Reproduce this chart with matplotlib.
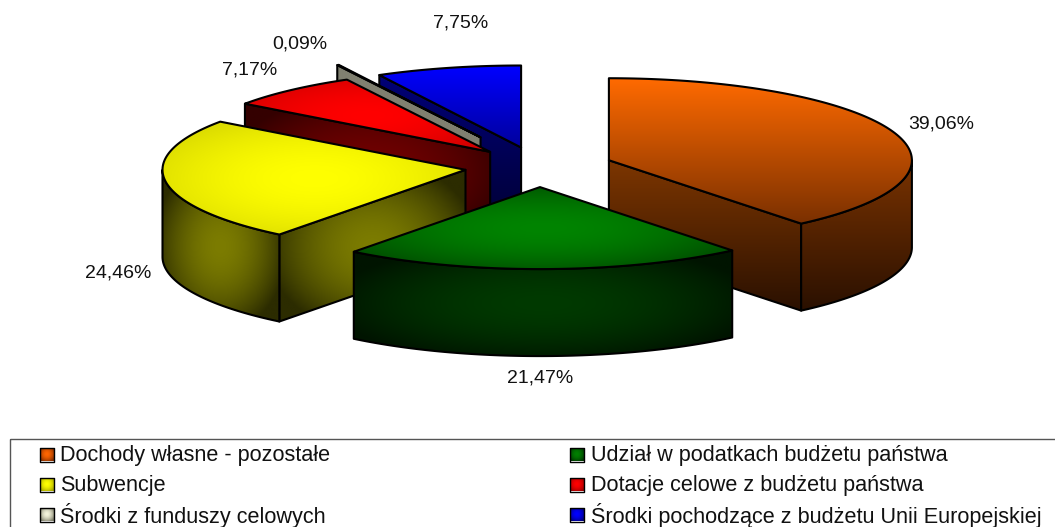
import numpy as np
import matplotlib
matplotlib.use("Agg")
import matplotlib.pyplot as plt
from matplotlib.colors import to_rgb
from matplotlib.patches import Polygon, Rectangle

plt.rcParams["font.family"] = ["Liberation Sans", "DejaVu Sans"]

labels = [
    "Dochody własne - pozostałe",
    "Udział w podatkach budżetu państwa",
    "Subwencje",
    "Dotacje celowe z budżetu państwa",
    "Środki z funduszy celowych",
    "Środki pochodzące z budżetu Unii Europejskiej",
]
shares = [39.06, 21.47, 24.46, 7.17, 0.09, 7.75]

# geometry of the fake 3d pie, in pixels of the output image
CX, CY = 539, 167
RX, RY = 303, 82
DEPTH = 87
explode = [0.245, 0.245, 0.245, 0.245, 0.41, 0.245]

# (kind, first colour, second colour) for top / rim / radial wall
top_style = [
    ("v", "#ff6a00", "#7a3000"),
    ("r", "#008400", "#004e00"),
    ("r", "#ffff00", "#dcdc00"),
    ("r", "#ff0000", "#d40000"),
    ("v", "#808070", "#808070"),
    ("v", "#0000ff", "#00009c"),
]
rim_style = [
    ("v", "#7a3300", "#2a1000"),
    ("r", "#003a00", "#001400"),
    ("r", "#7c7c00", "#2c2c00"),
    ("r", "#700000", "#300000"),
    ("v", "#808070", "#808070"),
    ("v", "#000070", "#000030"),
]
wall_style = [
    ("v", "#7d3600", "#2a1000"),
    ("r", "#003a00", "#001400"),
    ("r", "#7c7c00", "#2c2c00"),
    ("r", "#720000", "#340000"),
    ("v", "#808070", "#808070"),
    ("v", "#000078", "#000030"),
]
swatch_colors = [
    ("#ff6600", "#8a3000"),
    ("#008000", "#003800"),
    ("#ffff00", "#a8a800"),
    ("#ff0000", "#a00000"),
    ("#f4f4dc", "#80806c"),
    ("#0000ff", "#000080"),
]
label_pos = [(941, 124), (540, 378), (118, 273), (250, 70), (300, 44), (461, 23)]


def point(ox, oy, theta):
    t = np.radians(theta)
    return ox + RX * np.sin(t), oy - RY * np.cos(t)


def paint(ax, verts, style, z, lw=1.5):
    kind, c0, c1 = style
    verts = np.asarray(verts)
    x0, y0 = verts.min(axis=0)
    x1, y1 = verts.max(axis=0)
    yy, xx = np.mgrid[0:1:120j, 0:1:120j]
    if kind == "v":
        t = yy
    else:
        t = np.clip(np.hypot(2 * xx - 1, 2 * yy - 1) / 1.15, 0, 1) ** 1.8
    c0, c1 = np.array(to_rgb(c0)), np.array(to_rgb(c1))
    img = c0 + (c1 - c0) * t[..., None]
    im = ax.imshow(img, extent=(x0, x1, y1, y0), aspect="auto", zorder=z, interpolation="bilinear")
    clip = Polygon(verts, closed=True, transform=ax.transData)
    im.set_clip_path(clip)
    ax.add_patch(Polygon(verts, closed=True, fill=False, edgecolor="black", lw=lw, joinstyle="round", zorder=z + 0.5))


fig = plt.figure(figsize=(10.55, 5.27), dpi=100)
ax = fig.add_axes([0, 0, 1, 1])

edges = np.concatenate([[0], np.cumsum(shares)]) * 3.6 * 100 / np.sum(shares)
slices = []
for i in range(len(shares)):
    s, e = edges[i], edges[i + 1]
    mid = (s + e) / 2
    ox, oy = point(CX, CY, mid)
    ox = CX + (ox - CX) * explode[i]
    oy = CY + (oy - CY) * explode[i]
    slices.append((abs(180 - mid), i, s, e, ox, oy))

# back slices first
z = 2
for _, i, s, e, ox, oy in sorted(slices, reverse=True):
    # radial wall that faces the viewer
    wall_at = None
    if 180 < s < 360:
        wall_at = s
    elif 0 < e < 180:
        wall_at = e
    if wall_at is not None:
        px, py = point(ox, oy, wall_at)
        paint(ax, [(ox, oy), (px, py), (px, py + DEPTH), (ox, oy + DEPTH)], wall_style[i], z)
        z += 1
    # outer rim, only the front half shows
    a, b = max(s, 90), min(e, 270)
    if b > a:
        th = np.linspace(a, b, 80)
        px, py = point(ox, oy, th)
        verts = np.r_[np.c_[px, py], np.c_[px, py + DEPTH][::-1]]
        paint(ax, verts, rim_style[i], z)
        z += 1
    # top face
    th = np.linspace(s, e, 120)
    px, py = point(ox, oy, th)
    paint(ax, np.r_[[(ox, oy)], np.c_[px, py]], top_style[i], z)
    z += 1

for (x, y), v in zip(label_pos, shares):
    ax.text(x, y, f"{v:.2f}".replace(".", ",") + "%", ha="center", va="center",
            fontsize=14, color="#111111", zorder=50)

# legend box runs off the right and bottom of the picture
ax.add_patch(Rectangle((9.5, 438.5), 1100, 120, fill=False, edgecolor="#555555", lw=1.0, zorder=50))
row_y = [454.5, 484.5, 514.5]
col_x = [39.5, 570]
for i, name in enumerate(labels):
    x = col_x[i % 2]
    y = row_y[i // 2]
    paint(ax, [(x, y - 7), (x + 14, y - 7), (x + 14, y + 7), (x, y + 7)],
          ("r", swatch_colors[i][0], swatch_colors[i][1]), 60, lw=1.0)
    ax.text(x + 21, y + 1.5, name, ha="left", va="center", fontsize=15.6, color="#111111", zorder=60)

ax.set_xlim(0, 1055)
ax.set_ylim(527, 0)
ax.axis("off")
fig.savefig("out.png", dpi=100, facecolor="white")
